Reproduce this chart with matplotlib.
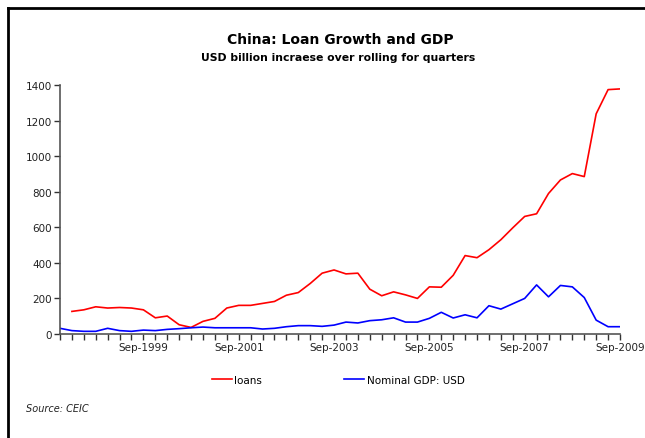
import pandas as pd
import matplotlib.pyplot as plt
from matplotlib.lines import Line2D

# quarterly, Dec-1997 .. Sep-2009
quarters = pd.period_range("1997Q4", "2009Q3", freq="Q")
loans = [None, 127, 136, 153, 146, 149, 146, 136, 91, 101, 52, 37, 71, 88, 146, 161,
         161, 172, 183, 218, 233, 284, 342, 360, 338, 342, 252, 215, 237, 220, 200, 265,
         263, 330, 441, 429, 474, 530, 597, 661, 676, 790, 866, 902, 885, 1238, 1374, 1378]
gdp = [32, 19, 15, 15, 32, 19, 15, 22, 19, 26, 30, 35, 39, 35, 35, 35,
       35, 28, 32, 41, 47, 47, 43, 50, 67, 62, 75, 80, 91, 67, 67, 88,
       122, 90, 108, 91, 159, 140, 170, 200, 276, 209, 273, 265, 205, 78, 41, 41]

title = "China: Loan Growth and GDP"
subtitle = "USD billion incraese over rolling for quarters"

data = pd.DataFrame({"loans": loans, "gdp": gdp}, index=quarters, dtype=float)
xs = list(range(len(data)))
labels = [p.strftime("%b-%Y") if p.quarter == 3 and p.year % 2 == 1 else "" for p in quarters]

fig = plt.figure(figsize=(6.45, 4.39), dpi=100)
ax = fig.add_axes([60 / 645, 1 - 335 / 439, 560 / 645, 249 / 439])

ax.plot(xs, data["loans"], color="#ff0000", linewidth=1.2, label="loans")
ax.plot(xs, data["gdp"], color="#0000ff", linewidth=1.2, label="Nominal GDP: USD")

ax.set_xlim(0, len(xs) - 1)
ax.set_ylim(0, 1400)
ax.set_yticks(range(0, 1401, 200))
ax.set_xticks(xs)
ax.set_xticklabels(labels)
for s in ["top", "right"]:
    ax.spines[s].set_visible(False)
for s in ["left", "bottom"]:
    ax.spines[s].set_color("#555555")
    ax.spines[s].set_linewidth(1.2)
ax.tick_params(axis="both", direction="out", length=4, width=1, color="#333333",
               labelsize=7.5, labelcolor="#222222", pad=2)

fig.text(340 / 645, 1 - 40 / 439, title, ha="center", va="center",
         fontsize=10, fontweight="bold")
fig.text(338 / 645, 1 - 58 / 439, subtitle, ha="center", va="center",
         fontsize=7.8, fontweight="bold")

fig.legend(loc="center", bbox_to_anchor=(338 / 645, 1 - 381 / 439), ncol=2,
           frameon=False, fontsize=7.5, handlelength=2.0, handletextpad=0.2,
           columnspacing=7.8)

fig.text(26 / 645, 1 - 409 / 439, "Source: CEIC", fontsize=7, style="italic",
         va="center", color="#222222")

# frame lines on top and left edge
fig.add_artist(Line2D([7.5 / 645, 1], [1 - 8.5 / 439, 1 - 8.5 / 439], color="black",
                      linewidth=2, transform=fig.transFigure))
fig.add_artist(Line2D([7.5 / 645, 7.5 / 645], [0, 1 - 8.5 / 439], color="black",
                      linewidth=2, transform=fig.transFigure))

fig.savefig("out.png", dpi=100)
